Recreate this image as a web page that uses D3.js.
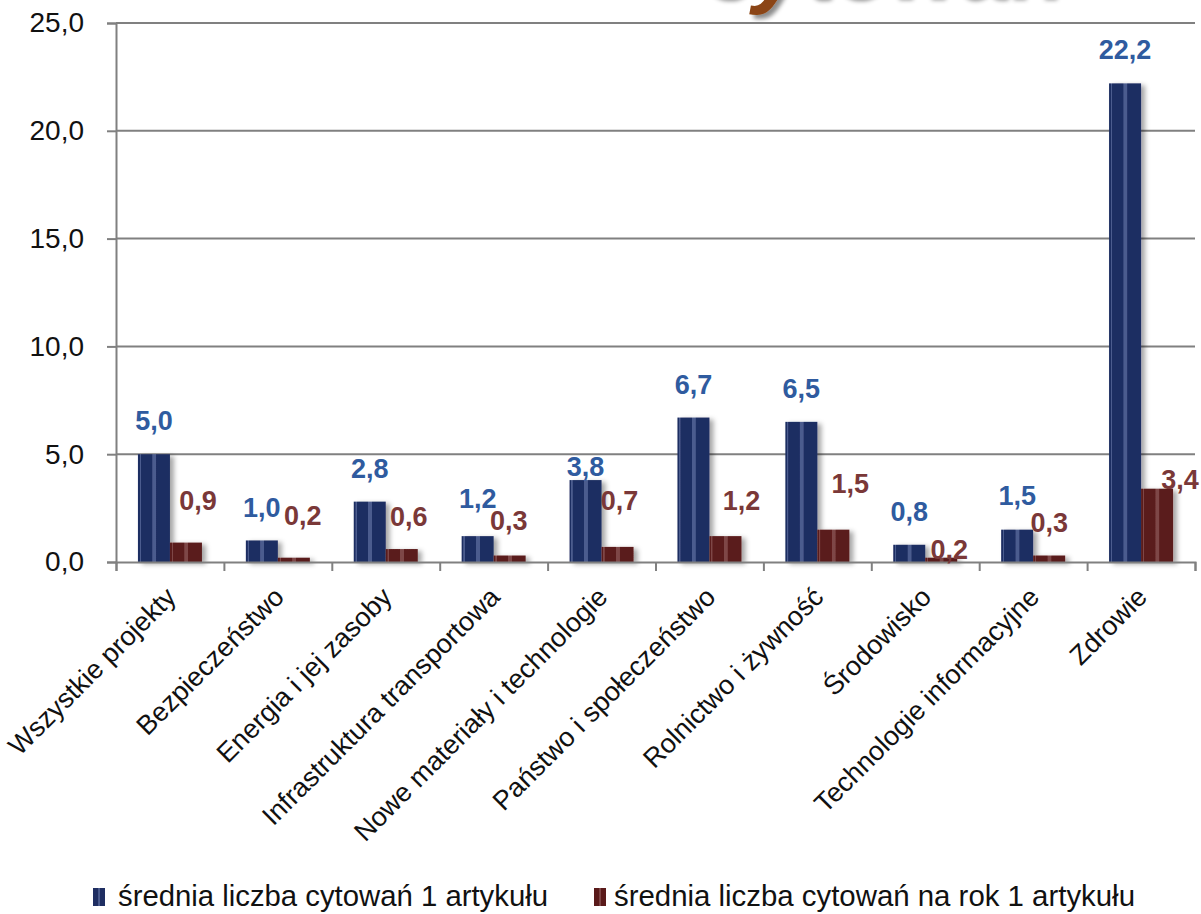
<!DOCTYPE html>
<html>
<head>
<meta charset="utf-8">
<script src="https://cdn.jsdelivr.net/npm/d3@7/dist/d3.min.js"></script>
<style>
  html, body { margin: 0; padding: 0; background: #ffffff; }
  svg { display: block; }
  text { font-family: "Liberation Sans", Arial, sans-serif; }
</style>
</head>
<body>
<svg id="chart" width="1201" height="914"></svg>
<script>
// ---------------- DATA ----------------
const categories = [
  "Wszystkie projekty",
  "Bezpieczeństwo",
  "Energia i jej zasoby",
  "Infrastruktura transportowa",
  "Nowe materiały i technologie",
  "Państwo i społeczeństwo",
  "Rolnictwo i żywność",
  "Środowisko",
  "Technologie informacyjne",
  "Zdrowie"
];
const citationsPerArticle = [5.0, 1.0, 2.8, 1.2, 3.8, 6.7, 6.5, 0.8, 1.5, 22.2];
const citationsPerYear    = [0.9, 0.2, 0.6, 0.3, 0.7, 1.2, 1.5, 0.2, 0.3, 3.4];
const seriesNames = [
  "średnia liczba cytowań 1 artykułu",
  "średnia liczba cytowań na rok 1 artykułu"
];
const yTickValues = [0, 5, 10, 15, 20, 25];
const titleFragment = ["c", "y", "towań"];

// ---------------- LAYOUT ----------------
const W = 1201, H = 914;
const plot = { left: 116, right: 1195, top: 23, bottom: 562 };
const barW = 32;
// manual label nudges (px) as placed in the original
const blueLabelGap = [24, 23, 24, 28, 4, 24, 24, 24, 25, 24];
const redLabelDx   = [12, 9, 7, -1, 2, 16, 17, 8, 0, 23];
const redLabelGap  = [33, 33, 23, 26, 37, 26, 37, -1, 24, 0];

const blue = "#1F2E62", blueLight = "#4C5C8E";
const red = "#5A1A1A", redLight = "#7E4646";
const blueText = "#2F5B9F", redText = "#7A3838";
const axisGray = "#808080";

const svg = d3.select("#chart");
const defs = svg.append("defs");

function stripeGradient(id, base, light) {
  const g = defs.append("linearGradient").attr("id", id)
    .attr("x1", "0%").attr("x2", "100%").attr("y1", "0%").attr("y2", "0%");
  [[0, base], [5, base], [6, light], [9, light], [10, base],
   [44, base], [46, light], [56, light], [58, base], [100, base]]
    .forEach(([o, c]) => g.append("stop").attr("offset", o + "%").attr("stop-color", c));
}
stripeGradient("gBlue", blue, blueLight);
stripeGradient("gRed", red, redLight);

const shadow = defs.append("filter").attr("id", "shadow")
  .attr("x", "-20%").attr("y", "-5%").attr("width", "150%").attr("height", "120%");
shadow.append("feDropShadow").attr("dx", 4).attr("dy", 2).attr("stdDeviation", 2.5)
  .attr("flood-color", "#000").attr("flood-opacity", 0.35);

const tShadow = defs.append("filter").attr("id", "tshadow")
  .attr("x", "-10%").attr("y", "-10%").attr("width", "130%").attr("height", "140%");
tShadow.append("feDropShadow").attr("dx", 4).attr("dy", 4).attr("stdDeviation", 2)
  .attr("flood-color", "#000").attr("flood-opacity", 0.45);

// ---------------- TITLE FRAGMENT (cut off at top, as in the original) ----------------
const title = svg.append("text")
  .attr("x", 703).attr("y", -4)
  .attr("font-size", 90).attr("font-weight", "bold").attr("font-style", "italic")
  .attr("filter", "url(#tshadow)");
title.selectAll("tspan").data(titleFragment).join("tspan")
  .attr("fill", (d, i) => i === 1 ? "#8B4513" : "#ffffff")
  .text(d => d);

// ---------------- SCALES ----------------
const x = d3.scaleBand().domain(categories).range([plot.left, plot.right]).padding(0);
const xEdges = d3.scaleLinear().domain([0, categories.length]).range([plot.left, plot.right]);
const y = d3.scaleLinear().domain([0, 25]).range([plot.bottom, plot.top]);

// ---------------- GRIDLINES ----------------
svg.append("g")
  .selectAll("line").data(yTickValues.filter(v => v > 0)).join("line")
  .attr("x1", plot.left).attr("x2", plot.right)
  .attr("y1", d => y(d)).attr("y2", d => y(d))
  .attr("stroke", axisGray).attr("stroke-width", 2);

// ---------------- BARS ----------------
const data = categories.map((c, i) => ({ c, a: citationsPerArticle[i], b: citationsPerYear[i], i }));
const bars = svg.append("g").attr("filter", "url(#shadow)");
bars.selectAll("rect.a").data(data).join("rect").attr("class", "a")
  .attr("x", d => x(d.c) + x.bandwidth() / 2 - barW)
  .attr("width", barW)
  .attr("y", d => y(d.a)).attr("height", d => y(0) - y(d.a))
  .attr("fill", "url(#gBlue)");
bars.selectAll("rect.b").data(data).join("rect").attr("class", "b")
  .attr("x", d => x(d.c) + x.bandwidth() / 2)
  .attr("width", barW)
  .attr("y", d => y(d.b)).attr("height", d => y(0) - y(d.b))
  .attr("fill", "url(#gRed)");

// ---------------- AXES ----------------
const fmt = v => v.toFixed(1).replace(".", ",");
const yAxis = svg.append("g").attr("transform", `translate(${plot.left},0)`)
  .call(d3.axisLeft(y).tickValues(yTickValues).tickSize(9).tickPadding(23).tickFormat(fmt));
yAxis.select(".domain").attr("stroke", axisGray).attr("stroke-width", 2);
yAxis.selectAll(".tick line").attr("stroke", axisGray).attr("stroke-width", 2);
yAxis.selectAll(".tick text")
  .attr("font-family", "'Liberation Sans', Arial, sans-serif")
  .attr("font-size", 28).attr("fill", "#111");

const xAxis = svg.append("g").attr("transform", `translate(0,${plot.bottom})`)
  .call(d3.axisBottom(xEdges).ticks(categories.length).tickSize(9).tickFormat(""));
xAxis.select(".domain").attr("stroke", axisGray).attr("stroke-width", 2);
xAxis.selectAll(".tick line").attr("stroke", axisGray).attr("stroke-width", 2);

// ---------------- CATEGORY LABELS ----------------
svg.append("g").selectAll("text").data(categories).join("text")
  .attr("transform", d => `translate(${x(d) + x.bandwidth() / 2 + 1},${plot.bottom + 30}) rotate(-45)`)
  .attr("text-anchor", "end")
  .attr("dy", "0.35em")
  .attr("font-size", 27).attr("fill", "#111")
  .text(d => d);

// ---------------- VALUE LABELS ----------------
svg.append("g").selectAll("text").data(data).join("text")
  .attr("x", d => x(d.c) + x.bandwidth() / 2 - barW / 2)
  .attr("y", d => y(d.a) - blueLabelGap[d.i])
  .attr("text-anchor", "middle")
  .attr("font-size", 27).attr("font-weight", "bold").attr("fill", blueText)
  .text(d => fmt(d.a));

svg.append("g").selectAll("text").data(data).join("text")
  .attr("x", d => x(d.c) + x.bandwidth() / 2 + barW / 2 + redLabelDx[d.i])
  .attr("y", d => y(d.b) - redLabelGap[d.i])
  .attr("text-anchor", "middle")
  .attr("font-size", 27).attr("font-weight", "bold").attr("fill", redText)
  .text(d => fmt(d.b));

// ---------------- LEGEND ----------------
const legendItems = [
  { name: seriesNames[0], fill: "url(#gBlue)", sx: 93, tx: 118, tw: 430 },
  { name: seriesNames[1], fill: "url(#gRed)", sx: 594, tx: 614, tw: 521 }
];
const lg = svg.append("g");
lg.selectAll("rect").data(legendItems).join("rect")
  .attr("x", d => d.sx).attr("y", 888).attr("width", 12).attr("height", 18)
  .attr("fill", d => d.fill);
lg.selectAll("text").data(legendItems).join("text")
  .attr("x", d => d.tx).attr("y", 906)
  .attr("font-size", 29).attr("fill", "#111")
  .attr("textLength", d => d.tw).attr("lengthAdjust", "spacingAndGlyphs")
  .text(d => d.name);
</script>
</body>
</html>
